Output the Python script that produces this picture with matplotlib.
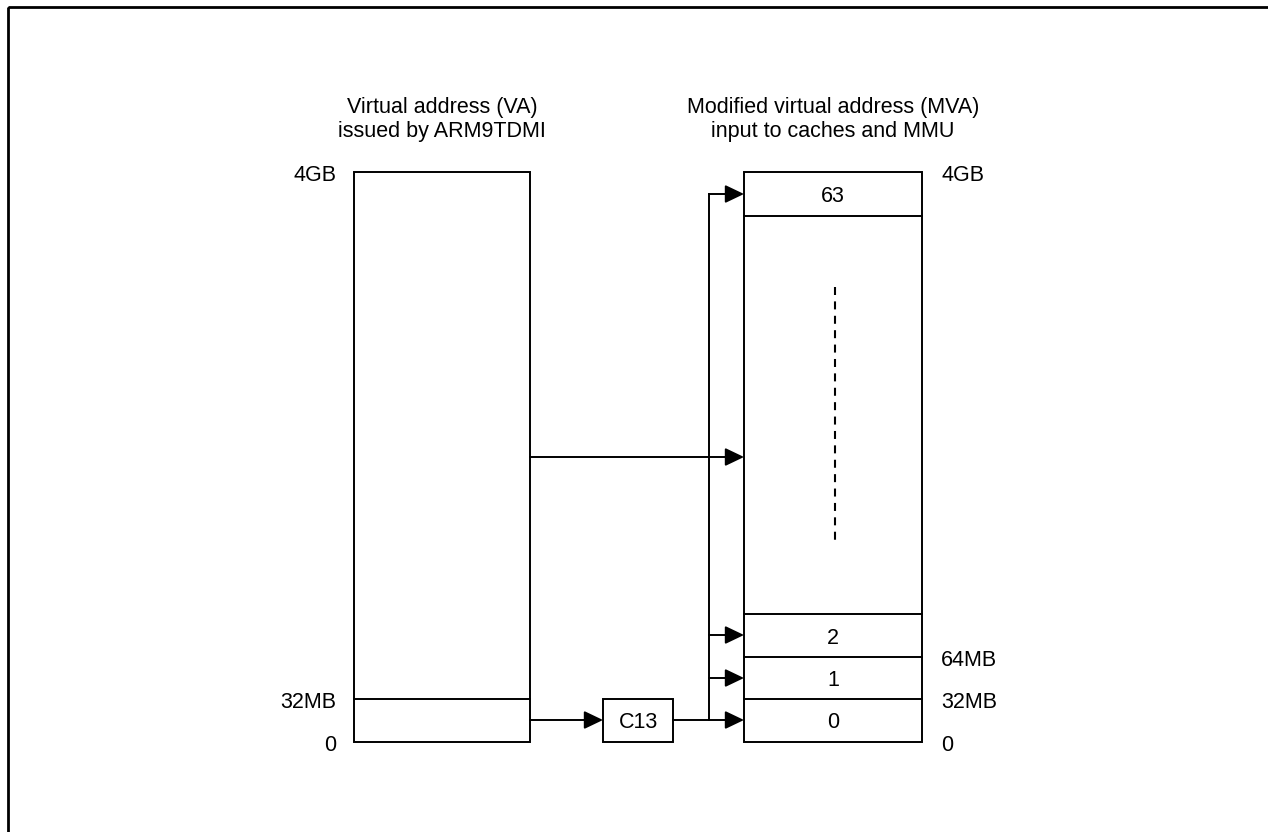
import matplotlib.pyplot as plt
from matplotlib.patches import Rectangle

OUTPUT_PLOT = "out.png"

# -----------------------
# Diagram content
# -----------------------
va_title = ["Virtual address (VA)", "issued by ARM9TDMI"]
mva_title = ["Modified virtual address (MVA)", "input to caches and MMU"]

va_addr_labels = ["4GB", "32MB", "0"]
mva_addr_labels = ["4GB", "64MB", "32MB", "0"]
mva_slot_labels = ["63", "2", "1", "0"]
c13_label = "C13"

# layout (pixel space, y grows downward)
VA_X0, VA_X1 = 354, 530
MVA_X0, MVA_X1 = 744, 922
TOP, BOTTOM = 172, 742
VA_SPLITS = [699]
MVA_SPLITS = [216, 614, 657, 699]
SLOT_Y = [194, 635, 678, 720]
C13_BOX = (603, 699, 673, 742)
BUS_X = 709
MID_Y = 457
TITLE_BASE = [112.5, 136.5]
BASE_OFF = 9  # baseline offset of labels from the line they sit beside

plt.rcParams['font.family'] = ['Liberation Sans', 'DejaVu Sans']
FS = 15.5

fig = plt.figure(figsize=(12.68, 8.32), dpi=100)
ax = fig.add_axes([0, 0, 1, 1])
ax.set_xlim(0, 1268)
ax.set_ylim(832, 0)
ax.axis('off')

LW = 1.4

# outer frame
ax.add_patch(Rectangle((8, 7), 1300, 900, fill=False, lw=2.0, ec='black'))


def box(x0, y0, x1, y1):
    ax.add_patch(Rectangle((x0, y0), x1 - x0, y1 - y0, fill=False, lw=LW, ec='black'))


def arrow(x0, x1, y):
    ax.annotate("", xy=(x1, y), xytext=(x0, y),
                arrowprops=dict(arrowstyle="-|>,head_length=1.15,head_width=0.55",
                                lw=LW, color='black', fc='black',
                                shrinkA=0, shrinkB=0))


def label(x, y, txt, ha):
    ax.text(x, y + BASE_OFF, txt, ha=ha, va='baseline', fontsize=FS)


# VA column
box(VA_X0, TOP, VA_X1, BOTTOM)
for y in VA_SPLITS:
    ax.plot([VA_X0, VA_X1], [y, y], color='black', lw=LW)
for txt, y in zip(va_addr_labels, [TOP, VA_SPLITS[0], BOTTOM]):
    label(VA_X0 - 18, y, txt, 'right')
for txt, yb in zip(va_title, TITLE_BASE):
    ax.text((VA_X0 + VA_X1) / 2, yb, txt, ha='center', va='baseline', fontsize=FS)

# MVA column
box(MVA_X0, TOP, MVA_X1, BOTTOM)
for y in MVA_SPLITS:
    ax.plot([MVA_X0, MVA_X1], [y, y], color='black', lw=LW)
for txt, y in zip(mva_slot_labels, SLOT_Y):
    ax.text((MVA_X0 + MVA_X1) / 2, y + 8.5, txt, ha='center', va='baseline', fontsize=FS)
for txt, y in zip(mva_addr_labels, [TOP, MVA_SPLITS[2], MVA_SPLITS[3], BOTTOM]):
    label(MVA_X1 + 19, y, txt, 'left')
for txt, yb in zip(mva_title, TITLE_BASE):
    ax.text((MVA_X0 + MVA_X1) / 2, yb, txt, ha='center', va='baseline', fontsize=FS)

# dashed ellipsis line
ax.plot([835, 835], [287, 541], color='black', lw=1.5, ls=(0, (3.84, 3.07)),
        dash_capstyle='butt')

# C13 box
box(*C13_BOX)
ax.text((C13_BOX[0] + C13_BOX[2]) / 2, (C13_BOX[1] + C13_BOX[3]) / 2 + 8, c13_label,
        ha='center', va='baseline', fontsize=FS)

# arrows
arrow(VA_X1, MVA_X0, MID_Y)
arrow(VA_X1, C13_BOX[0], SLOT_Y[3])
ax.plot([C13_BOX[2], BUS_X], [SLOT_Y[3], SLOT_Y[3]], color='black', lw=LW)
ax.plot([BUS_X, BUS_X], [SLOT_Y[3], SLOT_Y[0]], color='black', lw=LW)
arrow(BUS_X, MVA_X0, SLOT_Y[3])
for y in [SLOT_Y[0], SLOT_Y[1], SLOT_Y[2]]:
    arrow(BUS_X, MVA_X0, y)

fig.savefig(OUTPUT_PLOT, dpi=100)
plt.close(fig)
